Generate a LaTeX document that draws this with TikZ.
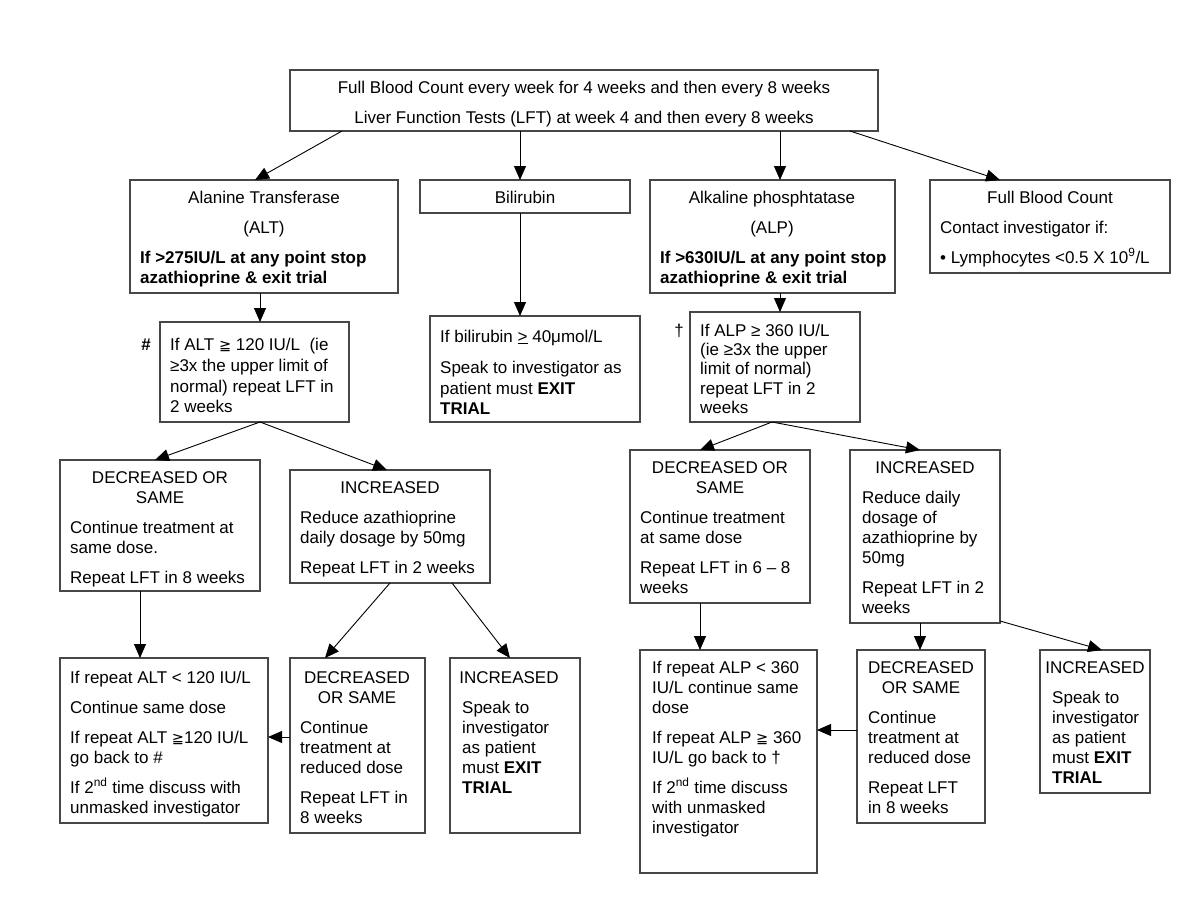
\documentclass[tikz,border=0pt]{standalone}
\usepackage{fontspec}
\setmainfont{Liberation Sans}
\newfontfamily\symf{DejaVu Sans}
\usetikzlibrary{arrows.meta}
\newcounter{ln}
\tikzset{
 box/.style={draw=black!72, line width=1.3pt, anchor=north west, inner sep=0pt, outer sep=0pt},
 txt/.style={font=\fontsize{17}{20}\selectfont, inner sep=0pt, text=black},
 arr/.style={draw=black, line width=0.9pt, -{Triangle[length=14pt,width=12pt]}},
}
\newcommand\Bx[5]{\node[box, minimum width={#4pt-#2pt}, minimum height={#5pt-#3pt}] (#1) at (#2,#3) {};}
\newcommand\TL[3]{\stepcounter{ln}\node[txt, anchor=base west] (ln\theln) at (#1,{#2+6}) {#3};}
\newcommand\TC[3]{\stepcounter{ln}\node[txt, anchor=base] (ln\theln) at (#1,{#2+6}) {#3};}
\newcommand\gge{{\symf\fontsize{14.5}{20}\selectfont ≧}}
\begin{document}
\begin{tikzpicture}[x=1pt,y=-1pt]
\useasboundingbox[fill=white] (0,0) rectangle (1200,900);
% boxes
\Bx{top}{290}{70}{878}{131}
\Bx{alt}{130}{180}{398}{293}
\Bx{bil}{420}{180}{630}{213}
\Bx{alp}{650}{180}{895}{293}
\Bx{fbc}{930}{180}{1170}{273}
\Bx{altc}{160}{322}{349}{422}
\Bx{bilc}{430}{316}{640}{422}
\Bx{alpc}{690}{312}{860}{422}
\Bx{decL}{60}{460}{260}{591}
\Bx{incL}{290}{470}{490}{583}
\Bx{repL}{60}{658}{268}{823}
\Bx{decM}{290}{658}{425}{833}
\Bx{incM}{450}{658}{580}{833}
\Bx{decR}{630}{450}{810}{603}
\Bx{incR}{850}{450}{1000}{623}
\Bx{repR}{640}{650}{817}{873}
\Bx{decRR}{857}{650}{985}{823}
\Bx{incRR}{1040}{650}{1150}{793}
% texts
\TC{584}{87}{Full Blood Count every week for 4 weeks and then every 8 weeks}
\TC{584}{117}{Liver Function Tests (LFT) at week 4 and then every 8 weeks}
\TC{264}{197}{Alanine Transferase}
\TC{264}{227}{(ALT)}
\TL{140}{257}{\textbf{If >275IU/L at any point stop}}
\TL{140}{277}{\textbf{azathioprine \& exit trial}}
\TC{525}{197}{Bilirubin}
\TC{772}{197}{Alkaline phosphtatase}
\TC{772}{227}{(ALP)}
\TL{660}{257}{\textbf{If >630IU/L at any point stop}}
\TL{660}{277}{\textbf{azathioprine \& exit trial}}
\TC{1050}{197}{Full Blood Count}
\TL{940}{227}{Contact investigator if:}
\TL{940}{257}{• Lymphocytes <0.5 X 10\textsuperscript{9}/L}
% ALT >=
\TC{146}{344}{\textbf{\#}}
\TL{170}{344}{If ALT \gge{} 120 IU/L\ \ (ie}
\TL{170}{365}{≥3x the upper limit of}
\TL{170}{386}{normal) repeat LFT in}
\TL{170}{406}{2 weeks}
% bilirubin
\TL{440}{336}{If bilirubin \underline{>} 40μmol/L}
\TL{440}{367}{Speak to investigator as}
\TL{440}{388}{patient must \textbf{EXIT}}
\TL{440}{408}{\textbf{TRIAL}}
% ALP >=
\TC{679}{330}{†}
\TL{700}{330}{If ALP ≥ 360 IU/L}
\TL{700}{349}{(ie ≥3x the upper}
\TL{700}{368}{limit of normal)}
\TL{700}{388}{repeat LFT in 2}
\TL{700}{407}{weeks}
% decL
\TC{160}{477}{DECREASED OR}
\TC{160}{497}{SAME}
\TL{70}{527}{Continue treatment at}
\TL{70}{547}{same dose.}
\TL{70}{577}{Repeat LFT in 8 weeks}
% incL
\TC{390}{487}{INCREASED}
\TL{300}{517}{Reduce azathioprine}
\TL{300}{537}{daily dosage by 50mg}
\TL{300}{567}{Repeat LFT in 2 weeks}
% repL
\TL{70}{677}{If repeat ALT < 120 IU/L}
\TL{70}{707}{Continue same dose}
\TL{70}{737}{If repeat ALT \gge{}120 IU/L}
\TL{70}{757}{go back to \#}
\TL{70}{787}{If 2\textsuperscript{nd} time discuss with}
\TL{70}{807}{unmasked investigator}
% decM
\TC{357}{677}{DECREASED}
\TC{357}{697}{OR SAME}
\TL{300}{727}{Continue}
\TL{300}{747}{treatment at}
\TL{300}{767}{reduced dose}
\TL{300}{797}{Repeat LFT in}
\TL{300}{817}{8 weeks}
% incM
\TC{509}{677}{INCREASED}
\TL{462}{707}{Speak to}
\TL{462}{727}{investigator}
\TL{462}{747}{as patient}
\TL{462}{767}{must \textbf{EXIT}}
\TL{462}{787}{\textbf{TRIAL}}
% decR
\TC{720}{467}{DECREASED OR}
\TC{720}{487}{SAME}
\TL{640}{517}{Continue treatment}
\TL{640}{537}{at same dose}
\TL{640}{567}{Repeat LFT in 6 – 8}
\TL{640}{587}{weeks}
% incR
\TC{925}{467}{INCREASED}
\TL{862}{497}{Reduce daily}
\TL{862}{517}{dosage of}
\TL{862}{537}{azathioprine by}
\TL{862}{557}{50mg}
\TL{862}{587}{Repeat LFT in 2}
\TL{862}{607}{weeks}
% repR
\TL{652}{667}{If repeat ALP < 360}
\TL{652}{687}{IU/L continue same}
\TL{652}{707}{dose}
\TL{652}{737}{If repeat ALP \gge{} 360}
\TL{652}{757}{IU/L go back to †}
\TL{652}{787}{If 2\textsuperscript{nd} time discuss}
\TL{652}{807}{with unmasked}
\TL{652}{827}{investigator}
% decRR
\TC{921}{667}{DECREASED}
\TC{921}{687}{OR SAME}
\TL{868}{717}{Continue}
\TL{868}{737}{treatment at}
\TL{868}{757}{reduced dose}
\TL{868}{787}{Repeat LFT}
\TL{868}{807}{in 8 weeks}
% incRR
\TC{1095}{667}{INCREASED}
\TL{1052}{697}{Speak to}
\TL{1052}{717}{investigator}
\TL{1052}{737}{as patient}
\TL{1052}{757}{must \textbf{EXIT}}
\TL{1052}{777}{\textbf{TRIAL}}
% arrows
\draw[arr] ([xshift=52pt]top.south west) -- ([xshift=125pt]alt.north west);
\draw[arr] ([xshift=230pt]top.south west) -- ([xshift=100pt]bil.north west);
\draw[arr] ([xshift=490pt]top.south west) -- ([xshift=130pt]alp.north west);
\draw[arr] ([xshift=560pt]top.south west) -- ([xshift=70pt]fbc.north west);
\draw[arr] ([xshift=130pt]alt.south west) -- ([xshift=100pt]altc.north west);
\draw[arr] ([xshift=100pt]bil.south west) -- ([xshift=90pt]bilc.north west);
\draw[arr] ([xshift=130pt]alp.south west) -- ([xshift=90pt]alpc.north west);
\draw[arr] ([xshift=100pt]altc.south west) -- ([xshift=95pt]decL.north west);
\draw[arr] ([xshift=100pt]altc.south west) -- ([xshift=97pt]incL.north west);
\draw[arr] ([xshift=100pt]incL.south west) -- ([xshift=35pt]decM.north west);
\draw[arr] ([xshift=162pt]incL.south west) -- ([xshift=60pt]incM.north west);
\draw[arr] ([xshift=80pt]decL.south west) -- ([xshift=80pt]repL.north west);
\draw[arr] ([yshift=-79pt]decM.north west) -- ([yshift=-79pt]repL.north east);
\draw[arr] ([xshift=82pt]alpc.south west) -- ([xshift=70pt]decR.north west);
\draw[arr] ([xshift=82pt]alpc.south west) -- ([xshift=70pt]incR.north west);
\draw[arr] ([xshift=70pt]decR.south west) -- ([xshift=60pt]repR.north west);
\draw[arr] ([xshift=70pt]incR.south west) -- ([xshift=63pt]decRR.north west);
\draw[arr] ([yshift=2pt]incR.south east) -- ([xshift=62pt]incRR.north west);
\draw[arr] ([yshift=-80pt]decRR.north west) -- ([yshift=-80pt]repR.north east);
\end{tikzpicture}
\end{document}
